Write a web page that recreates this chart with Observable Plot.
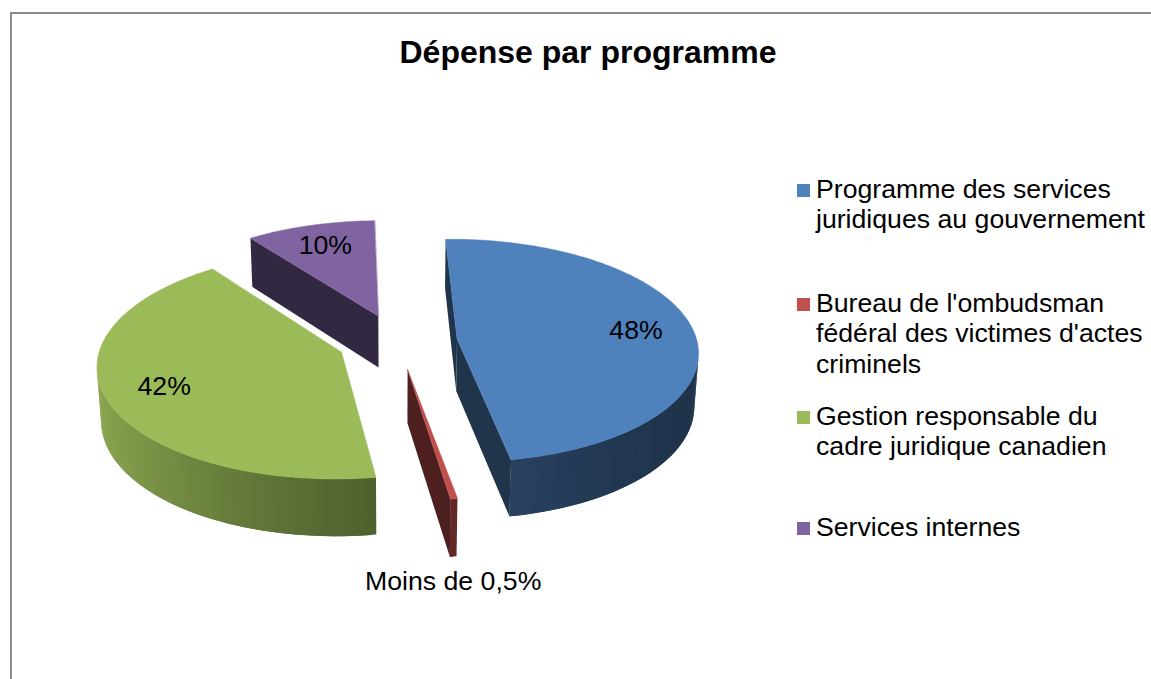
<!DOCTYPE html>
<html><head><meta charset="utf-8">
<script src="https://cdn.jsdelivr.net/npm/d3@7"></script>
<script src="https://cdn.jsdelivr.net/npm/@observablehq/plot@0.6"></script>
<style>
body{margin:0;background:#fff;font-family:"Liberation Sans",Arial,sans-serif;overflow:hidden}
#wrap{position:relative;width:1151px;height:679px;overflow:hidden;background:#fff}
#chart{position:absolute;left:0;top:0}
#frame{position:absolute;left:10px;top:12px;width:1300px;height:800px;border-left:2px solid #8c8c8c;border-top:2px solid #8c8c8c;pointer-events:none}
#title{position:absolute;top:36px;left:588px;transform:translateX(-50%);font-weight:bold;font-size:32px;line-height:32px;white-space:nowrap;color:#000}
.item{position:absolute;left:797px;width:361px;font-size:26.67px;line-height:30.5px;color:#000}
.sw{position:absolute;left:0;top:10.5px;width:13px;height:13px}
.tx{margin-left:19px;width:342px}
</style></head>
<body>
<div id="wrap">
  <div id="chart"></div>
  <div id="frame"></div>
  <div id="title">Dépense par programme</div>
  <div id="legend"></div>
</div>
<script>
// ---- data ----
const categories = [
  "Programme des services juridiques au gouvernement",
  "Bureau de l'ombudsman fédéral des victimes d'actes criminels",
  "Gestion responsable du cadre juridique canadien",
  "Services internes"
];
const shares = [47.6, 0.4, 42.2, 9.8];
const labels = ["48%", "Moins de 0,5%", "42%", "10%"];
const colors = ["#4F81BD", "#C0504D", "#9BBB59", "#8064A2"];

// ---- layout / 3D view settings ----
const W = 1151, H = 679;
const cx = 397, cy = 341, k = 240;
const tilt = 27.45 * Math.PI / 180, st = Math.sin(tilt), ct = Math.cos(tilt);
const D = 8.29, depthH = 0.25, explode = 0.25, startDeg = -1.5, labelR = 0.76;
const cam = [0, D * ct, D * st];

function proj(P) {
  const [X, Y, Z] = P;
  const w = D - Y * ct - Z * st, s = D / w;
  return {x: cx + k * X * s, y: cy + k * (Y * st - Z * ct) * s, w};
}
function shade(hex, f) {
  const c = d3.rgb(hex);
  return d3.rgb(c.r * f, c.g * f, c.b * f).formatHex();
}

const rows = categories.map((c, i) => ({category: c, share: shares[i], label: labels[i], color: colors[i]}));
const pie = d3.pie().sort(null).value(d => d.share)
  .startAngle(startDeg * Math.PI / 180).endAngle((startDeg + 360) * Math.PI / 180);
const arcs = pie(rows);

const sides = [], tops = [], inside = [], outside = [];
let fid = 0;
arcs.forEach(a => {
  const mid = (a.startAngle + a.endAngle) / 2;
  const ox = explode * Math.sin(mid), oy = -explode * Math.cos(mid);
  const n = Math.max(2, Math.ceil((a.endAngle - a.startAngle) / (Math.PI / 180)));
  const th = d3.range(n + 1).map(i => a.startAngle + (a.endAngle - a.startAngle) * i / n);
  const rim = (t, Z) => [ox + Math.sin(t), oy - Math.cos(t), Z];
  const apex = Z => [ox, oy, Z];
  const col = a.data.color;
  const addFace = (pts3, nrm, f, order) => {
    const c = [0, 1, 2].map(j => d3.mean(pts3, p => p[j]));
    const dot = nrm[0] * (cam[0] - c[0]) + nrm[1] * (cam[1] - c[1]) + nrm[2] * (cam[2] - c[2]);
    if (dot <= 0) return;
    sides.push({id: fid++, fill: shade(col, f), w: proj(c).w, pts: pts3.map(proj)});
  };
  // curved outer side: overlapping strips to hide seams
  for (let i = 0; i < n; i++) {
    const j = Math.min(i + 2, n);
    const tm = (th[i] + th[i + 1]) / 2;
    const nx = Math.sin(tm);
    const f = 0.4 + 0.5 * Math.pow((1 - nx) / 2, 1.7);
    addFace([rim(th[i], 0), rim(th[j], 0), rim(th[j], -depthH), rim(th[i], -depthH)],
      [Math.sin(tm), -Math.cos(tm), 0], f);
  }
  // radial faces
  const t0 = a.startAngle, t1 = a.endAngle;
  addFace([apex(0), rim(t0, 0), rim(t0, -depthH), apex(-depthH)], [-Math.cos(t0), -Math.sin(t0), 0], 0.4);
  addFace([apex(0), rim(t1, 0), rim(t1, -depthH), apex(-depthH)], [Math.cos(t1), Math.sin(t1), 0], 0.4);
  // top face
  const topPts = [apex(0), ...th.map(t => rim(t, 0))].map(proj);
  tops.push({id: fid++, fill: col, pts: topPts});
  // labels
  if (a.data.share >= 1) {
    const p = proj([ox + labelR * Math.sin(mid), oy - labelR * Math.cos(mid), 0]);
    inside.push({x: p.x, y: p.y, label: a.data.label});
  } else {
    const p = proj(rim(mid, -depthH));
    outside.push({x: p.x, y: p.y, label: a.data.label});
  }
});
sides.sort((a, b) => b.w - a.w);
const flat = faces => faces.flatMap(f => f.pts.map(p => ({id: f.id, fill: f.fill, x: p.x, y: p.y})));
const sidePts = flat(sides), topPts = flat(tops);

const chart = Plot.plot({
  width: W, height: H, margin: 0,
  x: {domain: [0, W], range: [0, W], axis: null},
  y: {domain: [0, H], range: [0, H], axis: null},
  color: {type: "identity"},
  style: {fontFamily: '"Liberation Sans", Arial, sans-serif', background: "transparent", overflow: "visible"},
  marks: [
    Plot.line(sidePts, {x: "x", y: "y", z: "id", fill: "fill", stroke: "none", curve: "linear-closed"}),
    Plot.line(topPts, {x: "x", y: "y", z: "id", fill: "fill", stroke: "fill", strokeWidth: 0.5, curve: "linear-closed"}),
    Plot.text(inside, {x: "x", y: "y", text: "label", fontSize: 26.67, fill: "#000"}),
    Plot.text(outside, {x: "x", y: "y", text: "label", fontSize: 26.67, fill: "#000", dy: 25})
  ]
});
document.getElementById("chart").appendChild(chart);

// legend
const legendTops = [173.5, 287.5, 400.5, 511.5];
const leg = document.getElementById("legend");
categories.forEach((c, i) => {
  const item = document.createElement("div");
  item.className = "item";
  item.style.top = legendTops[i] + "px";
  const sw = document.createElement("div");
  sw.className = "sw";
  sw.style.background = colors[i];
  const tx = document.createElement("div");
  tx.className = "tx";
  tx.textContent = c;
  item.appendChild(sw); item.appendChild(tx);
  leg.appendChild(item);
});
</script>
</body></html>
